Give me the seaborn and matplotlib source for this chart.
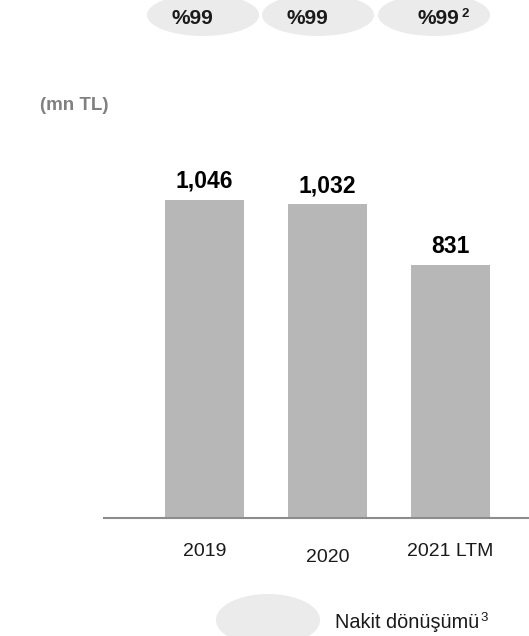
import matplotlib
matplotlib.use("Agg")
import matplotlib.pyplot as plt
import matplotlib.transforms as mtransforms
import seaborn as sns
import pandas as pd
from matplotlib.patches import Ellipse

# data
periods = ["2019", "2020", "2021 LTM"]
ebitda = [1046, 1032, 831]
value_labels = ["1,046", "1,032", "831"]
conversion = ["%99", "%99", "%99"]

sns.set_theme(style="white")
plt.rcParams["font.family"] = ["Liberation Sans", "DejaVu Sans"]

W, H = 529, 636
fig = plt.figure(figsize=(W / 100, H / 100), dpi=100)

# axes placed in pixel terms: left 104, right 529, baseline 518, top 140
ax = fig.add_axes([104 / W, (H - 518) / H, (W - 104) / W, (518 - 140) / H])

df = pd.DataFrame({"period": periods, "value": ebitda})
sns.barplot(data=df, x="period", y="value", color="#b7b7b7", saturation=1,
            width=0.645, ax=ax, edgecolor="none")

ax.set_xlim(-0.82, 2.64)
ax.set_ylim(0, 1243)
for s in ["top", "right", "left"]:
    ax.spines[s].set_visible(False)
ax.spines["bottom"].set_color("#8c8c8c")
ax.spines["bottom"].set_linewidth(1.5)
ax.set_yticks([])
ax.set_xticks([])
ax.set_xlabel("")
ax.set_ylabel("")

# value labels
for i, (v, lab) in enumerate(zip(ebitda, value_labels)):
    ax.annotate(lab, (i, v), xytext=(0, 5), textcoords="offset points",
                ha="center", va="bottom", fontsize=16.5, fontweight="bold",
                color="#000000")

# category labels (2020 sits a bit lower in the original)
label_y = [552, 557, 552]
blend = mtransforms.blended_transform_factory(ax.transData, fig.transFigure)
for i, (p, yy) in enumerate(zip(periods, label_y)):
    ax.text(i, 1 - yy / H, p, transform=blend, ha="center", va="center",
            fontsize=14, color="#1a1a1a")

# top row of conversion ellipses
ell_x = [203, 318, 434]
txt_x = [192, 307, 438]
for ex, tx, t in zip(ell_x, txt_x, conversion):
    fig.patches.append(Ellipse((ex / W, 1 - 15 / H), 112 / W, 42 / H,
                               transform=fig.transFigure, facecolor="#ebebeb",
                               edgecolor="none", zorder=0))
    fig.text(tx / W, 1 - 18 / H, t, ha="center", va="center", fontsize=15,
             fontweight="bold", color="#1a1a1a")
fig.text(461 / W, 1 - 14 / H, "2", ha="left", va="center", fontsize=9.5,
         fontweight="bold", color="#1a1a1a")

# unit label
fig.text(40 / W, 1 - 105 / H, "(mn TL)", ha="left", va="center", fontsize=13.5,
         fontweight="bold", color="#808080")

# legend
fig.patches.append(Ellipse((268 / W, 1 - 620 / H), 104 / W, 52 / H,
                           transform=fig.transFigure, facecolor="#ebebeb",
                           edgecolor="none", zorder=0))
fig.text(335 / W, 1 - 622 / H, "Nakit dönüşümü", ha="left", va="center",
         fontsize=14.3, color="#1a1a1a")
fig.text(480 / W, 1 - 618 / H, "3", ha="left", va="center", fontsize=9.5,
         color="#1a1a1a")

fig.savefig("out.png", dpi=100)
